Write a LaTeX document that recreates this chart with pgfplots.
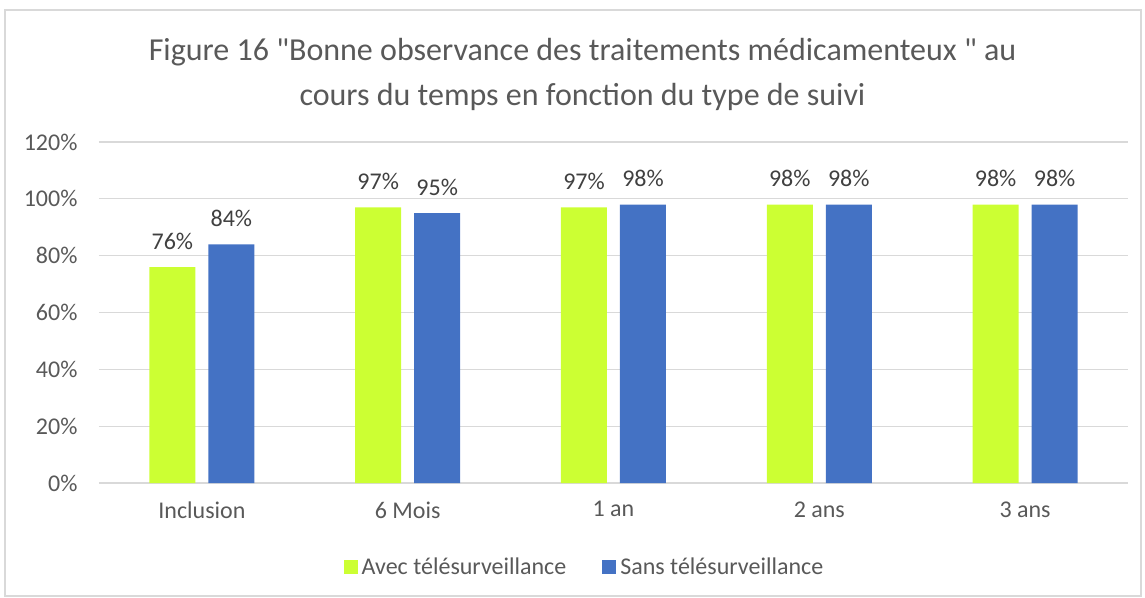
\documentclass[border=0pt]{standalone}
\usepackage{fontspec}
\setmainfont{Carlito}
\usepackage{pgfplots}
\pgfplotsset{compat=1.18}
\definecolor{cgreen}{HTML}{CCFF33}
\definecolor{cblue}{HTML}{4472C4}
\definecolor{cgrid}{HTML}{D9D9D9}
\definecolor{ctext}{HTML}{595959}
\definecolor{clabel}{HTML}{404040}
\begin{document}
\begin{tikzpicture}[x=1pt,y=1pt]
\useasboundingbox (-99,-114) rectangle (1046,483);
\draw[cgrid,line width=1.2pt] (-94,-113) rectangle (1042,473);
\node[ctext,anchor=base,font=\fontsize{32}{38}\selectfont] at (483.5,422) {Figure 16 \textquotedbl Bonne observance des traitements médicamenteux \textquotedbl{} au};
\node[ctext,anchor=base,font=\fontsize{32}{38}\selectfont] at (483.5,377) {cours du temps en fonction du type de suivi};
\begin{axis}[
  at={(0,0)}, anchor=south west,
  scale only axis, width=1029pt, height=341pt,
  xmin=-0.5, xmax=4.5, ymin=0, ymax=120,
  ytick={0,20,...,120},
  yticklabel={\pgfmathprintnumber{\tick}\%},
  /pgf/number format/assume math mode=true,
  xtick={0,1,2,3,4},
  xticklabels={Inclusion,6 Mois,1 an,2 ans,3 ans},
  ymajorgrids, grid style={cgrid,line width=1.2pt},
  axis line style={draw=none},
  major tick length=0pt,
  tick label style={ctext,font=\fontsize{24}{28}\selectfont},
  yticklabel style={xshift=-18pt},
  xticklabel style={yshift=-15pt},
  ybar, bar width=46pt,
  nodes near coords={\pgfmathprintnumber{\pgfplotspointmeta}\%},
  every node near coord/.append style={clabel,font=\fontsize{24}{28}\selectfont,anchor=base,yshift=18pt,inner sep=0pt},
  legend style={at={(486.5pt,-84pt)},anchor=center,draw=none,legend columns=2,
    font=\fontsize{24}{28}\selectfont,text=ctext,
    nodes={inner xsep=4pt},
    /tikz/every even column/.append style={column sep=32pt}},
  legend image code/.code={\fill[#1,draw=none] (0pt,-7pt) rectangle (14pt,7pt);},
  clip=false,
]
\addplot[fill=cgreen,draw=none,bar shift=-29.5pt] coordinates {(0,76) (1,97) (2,97) (3,98) (4,98)};
\addplot[fill=cblue,draw=none,bar shift=29.5pt] coordinates {(0,84) (1,95) (2,98) (3,98) (4,98)};
\legend{Avec télésurveillance,Sans télésurveillance}
\end{axis}
\end{tikzpicture}
\end{document}
